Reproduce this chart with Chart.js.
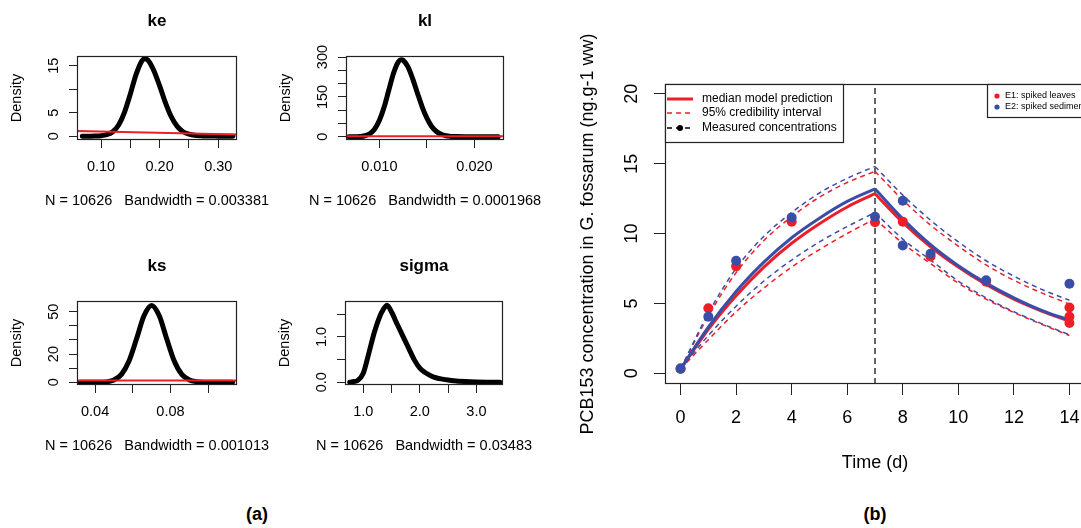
<!DOCTYPE html>
<html>
<head>
<meta charset="utf-8">
<script src="https://cdn.jsdelivr.net/npm/chart.js@4.4.0/dist/chart.umd.min.js"></script>
<style>
  body { margin: 0; width: 1081px; height: 528px; overflow: hidden; background: #fff; position: relative;
         font-family: "Liberation Sans", Arial, Helvetica, sans-serif; }
  canvas { position: absolute; }
  #bwrap { position: absolute; left: 560px; top: 0; width: 525px; height: 490px; }
  .lab { position: absolute; font-weight: bold; font-size: 18px; transform: translate(-50%, -50%); color: #000; }
</style>
</head>
<body>
<canvas id="ke"></canvas>
<canvas id="kl"></canvas>
<canvas id="ks"></canvas>
<canvas id="sigma"></canvas>
<div id="bwrap"><canvas id="conc"></canvas></div>
<div class="lab" style="left:257px; top:514px">(a)</div>
<div class="lab" style="left:875px; top:514px">(b)</div>
<script>
// ---- panel (a): posterior densities ----
var keX = [0.068, 0.08, 0.09, 0.10, 0.11, 0.12, 0.13, 0.14, 0.15, 0.16, 0.17, 0.175, 0.18, 0.19, 0.20, 0.21, 0.22, 0.23, 0.24, 0.25, 0.26, 0.27, 0.28, 0.30, 0.325];
var keY = [0, 0.02, 0.05, 0.12, 0.35, 0.95, 2.4, 5.1, 9.0, 13.2, 16.1, 16.5, 16.2, 14.0, 10.7, 7.1, 4.1, 2.1, 0.95, 0.45, 0.2, 0.1, 0.05, 0.02, 0];
var keRedX = [0.059, 0.332];
var keRedY = [1.1, 0.38];
var keXTicks = [0.10, 0.15, 0.20, 0.25, 0.30];
var keXLabels = ['0.10', '', '0.20', '', '0.30'];
var keYTicks = [0, 5, 10, 15];
var keYLabels = ['0', '5', '', '15'];

var klX = [0.0068, 0.0075, 0.008, 0.0085, 0.009, 0.0095, 0.010, 0.0105, 0.011, 0.0115, 0.012, 0.0123, 0.0125, 0.013, 0.0135, 0.014, 0.0145, 0.015, 0.0155, 0.016, 0.0165, 0.017, 0.0175, 0.018, 0.019, 0.020, 0.0215, 0.0225];
var klY = [0, 0.3, 1.2, 4, 11.6, 28.5, 61, 111, 176, 240, 282, 290, 288, 264, 219, 165, 113, 70, 39, 20, 9.3, 3.9, 1.6, 0.8, 0.2, 0.1, 0.03, 0];
var klRedX = [0.0065, 0.0231];
var klRedY = [2, 2];
var klXTicks = [0.010, 0.015, 0.020];
var klXLabels = ['0.010', '', '0.020'];
var klYTicks = [0, 50, 100, 150, 200, 250, 300];
var klYLabels = ['0', '', '', '150', '', '', '300'];

var ksX = [0.032, 0.038, 0.042, 0.046, 0.050, 0.054, 0.058, 0.062, 0.066, 0.070, 0.074, 0.078, 0.082, 0.086, 0.090, 0.094, 0.098, 0.102, 0.106, 0.113];
var ksY = [0, 0.01, 0.05, 0.33, 1.56, 5.6, 15.1, 30.8, 47.3, 54.5, 47.3, 30.8, 15.1, 5.6, 1.7, 0.45, 0.1, 0.03, 0.01, 0];
var ksRedX = [0.0304, 0.1153];
var ksRedY = [1.2, 1.2];
var ksXTicks = [0.04, 0.06, 0.08, 0.10];
var ksXLabels = ['0.04', '', '0.08', ''];
var ksYTicks = [0, 10, 20, 30, 40, 50];
var ksYLabels = ['0', '', '20', '', '', '50'];

var sigX = [0.76, 0.8, 0.9, 1.0, 1.1, 1.2, 1.3, 1.35, 1.42, 1.5, 1.6, 1.7, 1.8, 1.9, 2.0, 2.1, 2.2, 2.3, 2.4, 2.5, 2.6, 2.8, 3.0, 3.2, 3.42];
var sigY = [0, 0.01, 0.04, 0.2, 0.65, 1.12, 1.48, 1.6, 1.70, 1.55, 1.28, 1.02, 0.76, 0.5, 0.31, 0.21, 0.14, 0.095, 0.07, 0.05, 0.035, 0.018, 0.008, 0.003, 0];
var sigXTicks = [1.0, 1.5, 2.0, 2.5, 3.0];
var sigXLabels = ['1.0', '', '2.0', '', '3.0'];
var sigYTicks = [0, 0.5, 1.0, 1.5];
var sigYLabels = ['0.0', '', '1.0', ''];

// ---- panel (b): PCB153 kinetics ----
var days = [0, 1, 2, 3, 4, 5, 6, 7, 8, 9, 10, 11, 12, 13, 14];
var switchDay = 7;
var e1Median = [0.3, 3.15, 5.55, 7.6, 9.3, 10.7, 11.9, 12.85, 10.8, 9.05, 7.6, 6.35, 5.3, 4.45, 3.72];
var e2Median = [0.3, 3.3, 5.85, 7.95, 9.7, 11.1, 12.3, 13.2, 11.05, 9.2, 7.7, 6.45, 5.4, 4.5, 3.8];
var e1Upper = [0.3, 4.1, 7.2, 9.5, 11.2, 12.6, 13.65, 14.45, 12.4, 10.6, 9.1, 7.75, 6.65, 5.75, 4.95];
var e2Upper = [0.3, 4.3, 7.5, 9.8, 11.5, 12.9, 13.95, 14.8, 12.75, 10.95, 9.4, 8.05, 6.95, 6.0, 5.22];
var e1Lower = [0.3, 2.4, 4.4, 6.1, 7.6, 8.85, 10.0, 11.05, 9.3, 7.85, 6.45, 5.3, 4.35, 3.5, 2.7];
var e2Lower = [0.3, 2.7, 4.8, 6.6, 8.1, 9.4, 10.5, 11.5, 9.6, 8.1, 6.6, 5.4, 4.4, 3.55, 2.75];
var e1Times = [0, 1, 2, 4, 7, 8, 9, 11, 14, 14, 14];
var e1Conc = [0.3, 4.65, 7.65, 10.85, 10.8, 10.85, 8.35, 6.55, 4.7, 4.05, 3.6];
var e2Times = [0, 1, 2, 4, 7, 8, 8, 9, 11, 14];
var e2Conc = [0.35, 4.05, 8.05, 11.15, 11.2, 12.35, 9.15, 8.55, 6.65, 6.4];
var timeTicks = [0, 2, 4, 6, 8, 10, 12, 14];
var concTicks = [0, 5, 10, 15, 20];
var legendLabels = ['median model prediction', '95% credibility interval', 'Measured concentrations'];
var expLabels = ['E1: spiked leaves', 'E2: spiked sediment'];

var red = '#ec1f28';
var blue = '#3a4ea8';
var fam = '"Liberation Sans", Arial, Helvetica, sans-serif';

Chart.defaults.font.family = fam;
Chart.defaults.color = '#000';
Chart.defaults.animation = false;

function pts(xs, ys) {
    return xs.map(function(x, i) { return {x: x, y: ys[i]}; });
}

// box, rotated y labels, titles (R look)
var rText = {
    id: 'rText',
    afterDraw: function(chart, args, o) {
        if (!o || !o.yTicks) return;
        var ctx = chart.ctx, a = chart.chartArea, ys = chart.scales.y;
        ctx.save();
        ctx.strokeStyle = '#222';
        ctx.lineWidth = 1.2;
        ctx.strokeRect(a.left + 0.5, a.top + 0.5, a.right - a.left - 1, a.bottom - a.top - 1);
        ctx.fillStyle = '#000';
        ctx.textAlign = 'center';
        ctx.textBaseline = 'middle';
        ctx.font = o.size + 'px ' + fam;
        o.yTicks.forEach(function(v, i) {
            if (!o.yLabels[i]) return;
            ctx.save();
            ctx.translate(a.left - o.yOff, ys.getPixelForValue(v));
            ctx.rotate(-Math.PI / 2);
            ctx.fillText(o.yLabels[i], 0, 0);
            ctx.restore();
        });
        var cx = (a.left + a.right) / 2, cy = (a.top + a.bottom) / 2;
        ctx.fillText(o.xTitle, cx, a.bottom + o.xTitleDy);
        ctx.save();
        ctx.translate(a.left - o.yTitleDx, cy);
        ctx.rotate(-Math.PI / 2);
        ctx.fillText(o.yTitle, 0, 0);
        ctx.restore();
        if (o.title) {
            ctx.font = 'bold 17px ' + fam;
            ctx.fillText(o.title, cx, a.top - 35);
        }
        ctx.restore();
    }
};
Chart.register(rText);

function tickAxis(min, max, ticks, size, extra) {
    var ax = {
        type: 'linear', min: min, max: max,
        afterBuildTicks: function(s) { s.ticks = ticks.map(function(v) { return {value: v}; }); },
        afterFit: function(s) {
            if (s.isHorizontal()) s.height = size; else s.width = size;
            s.paddingLeft = 0; s.paddingRight = 0; s.paddingTop = 0; s.paddingBottom = 0;
        },
        grid: {drawOnChartArea: false, tickLength: 8, color: '#222'},
        border: {display: false}
    };
    return Object.assign(ax, extra);
}

function densityChart(p) {
    var cv = document.getElementById(p.id);
    cv.width = 77 + (p.box[2] - p.box[0]) + 60;
    cv.height = 56 + (p.box[3] - p.box[1]) + 75;
    cv.style.left = (p.box[0] - 77) + 'px';
    cv.style.top = (p.box[1] - 56) + 'px';
    var sets = [{
        data: pts(p.x, p.y), borderColor: '#000', borderWidth: 5, order: 1,
        cubicInterpolationMode: 'monotone', borderJoinStyle: 'round', borderCapStyle: 'round'
    }];
    if (p.redX) sets.push({data: pts(p.redX, p.redY), borderColor: red, borderWidth: 2, order: 0});
    return new Chart(cv, {
        type: 'line',
        data: {datasets: sets},
        options: {
            responsive: false, events: [],
            elements: {point: {radius: 0}},
            layout: {autoPadding: false, padding: {top: 56, right: 60}},
            plugins: {
                legend: {display: false}, tooltip: {enabled: false},
                rText: {yTicks: p.yTicks, yLabels: p.yLabels, yOff: 23, size: 14.5, title: p.id,
                        xTitle: p.note, xTitleDy: 61, yTitle: 'Density', yTitleDx: 60}
            },
            scales: {
                x: tickAxis(p.xr[0], p.xr[1], p.xTicks, 75, {
                    ticks: {autoSkip: false, maxRotation: 0, padding: 10, font: {size: 14.5},
                            callback: function(v, i) { return p.xLabels[i]; }}
                }),
                y: tickAxis(p.yr[0], p.yr[1], p.yTicks, 77, {
                    ticks: {display: false}
                })
            }
        }
    });
}

densityChart({id: 'ke', box: [77, 56, 237, 140], x: keX, y: keY, redX: keRedX, redY: keRedY,
    xr: [0.059, 0.332], yr: [-0.8, 17.07], xTicks: keXTicks, xLabels: keXLabels, yTicks: keYTicks, yLabels: keYLabels,
    note: 'N = 10626   Bandwidth = 0.003381'});
densityChart({id: 'kl', box: [346, 56, 504, 140], x: klX, y: klY, redX: klRedX, redY: klRedY,
    xr: [0.0065, 0.0231], yr: [-12, 304], xTicks: klXTicks, xLabels: klXLabels, yTicks: klYTicks, yLabels: klYLabels,
    note: 'N = 10626   Bandwidth = 0.0001968'});
densityChart({id: 'ks', box: [77, 301, 237, 385], x: ksX, y: ksY, redX: ksRedX, redY: ksRedY,
    xr: [0.0304, 0.1153], yr: [-1.9, 57.6], xTicks: ksXTicks, xLabels: ksXLabels, yTicks: ksYTicks, yLabels: ksYLabels,
    note: 'N = 10626   Bandwidth = 0.001013'});
densityChart({id: 'sigma', box: [345, 301, 503, 385], x: sigX, y: sigY,
    xr: [0.677, 3.47], yr: [-0.06, 1.794], xTicks: sigXTicks, xLabels: sigXLabels, yTicks: sigYTicks, yLabels: sigYLabels,
    note: 'N = 10626   Bandwidth = 0.03483'});

// ---- panel (b) ----
function curve(arr, from, to, color, width, dash, order) {
    var d = [];
    for (var i = 0; i < days.length; i++) {
        if (days[i] >= from && days[i] <= to) d.push({x: days[i], y: arr[i]});
    }
    return {data: d, borderColor: color, borderWidth: width, borderDash: dash, order: order,
            pointRadius: 0, cubicInterpolationMode: 'monotone'};
}

var yMin = -0.77, yMax = 20.7;
var bSets = [
    {data: pts(e2Times, e2Conc), showLine: false, pointRadius: 5, pointBackgroundColor: blue, pointBorderWidth: 0, order: 0},
    {data: pts(e1Times, e1Conc), showLine: false, pointRadius: 5, pointBackgroundColor: red, pointBorderWidth: 0, order: 1},
    {data: [{x: switchDay, y: yMin}, {x: switchDay, y: yMax}], borderColor: '#333', borderWidth: 1.5,
     borderDash: [6, 4], pointRadius: 0, order: 7}
];
[[e2Median, blue, 3, [], 2], [e1Median, red, 3, [], 3],
 [e2Upper, blue, 1.5, [5, 4], 4], [e2Lower, blue, 1.5, [5, 4], 4],
 [e1Upper, red, 1.5, [5, 4], 5], [e1Lower, red, 1.5, [5, 4], 5]].forEach(function(c) {
    bSets.push(curve(c[0], 0, switchDay, c[1], c[2], c[3], c[4]));
    bSets.push(curve(c[0], switchDay, 14, c[1], c[2], c[3], c[4]));
});

var bLegend = {
    id: 'bLegend',
    afterDraw: function(chart) {
        var ctx = chart.ctx, a = chart.chartArea;
        ctx.save();
        ctx.fillStyle = '#fff';
        ctx.strokeStyle = '#222';
        ctx.lineWidth = 1.2;
        ctx.fillRect(a.left, a.top, 178, 58);
        ctx.strokeRect(a.left + 0.5, a.top + 0.5, 178, 58);
        var rows = [15, 29, 44];
        var styles = [[red, 3, []], [red, 1.5, [5, 4]], ['#000', 1.5, [5, 4]]];
        ctx.font = '12px ' + fam;
        ctx.textBaseline = 'middle';
        rows.forEach(function(r, i) {
            ctx.strokeStyle = styles[i][0];
            ctx.lineWidth = styles[i][1];
            ctx.setLineDash(styles[i][2]);
            ctx.beginPath();
            ctx.moveTo(a.left + 2, a.top + r);
            ctx.lineTo(a.left + 28, a.top + r);
            ctx.stroke();
            ctx.fillStyle = '#000';
            ctx.fillText(legendLabels[i], a.left + 37, a.top + r);
        });
        ctx.setLineDash([]);
        ctx.beginPath();
        ctx.arc(a.left + 15, a.top + 44, 3, 0, Math.PI * 2);
        ctx.fill();

        var x0 = a.left + 322;
        ctx.fillStyle = '#fff';
        ctx.fillRect(x0, a.top, a.right + 10 - x0, 33);
        ctx.strokeStyle = '#222';
        ctx.lineWidth = 1.2;
        ctx.strokeRect(x0 + 0.5, a.top + 0.5, a.right + 10 - x0, 33);
        ctx.font = '9px ' + fam;
        [red, blue].forEach(function(c, i) {
            var y = a.top + 12 + i * 11;
            ctx.fillStyle = c;
            ctx.beginPath();
            ctx.arc(x0 + 10, y, 2.6, 0, Math.PI * 2);
            ctx.fill();
            ctx.fillStyle = '#000';
            ctx.fillText(expLabels[i], x0 + 18, y);
        });
        ctx.restore();
    }
};

var bCanvas = document.getElementById('conc');
bCanvas.width = 525;
bCanvas.height = 490;
bCanvas.style.left = '0px';
bCanvas.style.top = '0px';
new Chart(bCanvas, {
    type: 'line',
    data: {datasets: bSets},
    options: {
        responsive: false, events: [],
        layout: {autoPadding: false, padding: {top: 84}},
        plugins: {
            legend: {display: false}, tooltip: {enabled: false},
            rText: {yTicks: concTicks, yLabels: concTicks.map(String), yOff: 32.5, size: 18,
                    xTitle: 'Time (d)', xTitleDy: 79,
                    yTitle: 'PCB153 concentration in G. fossarum (ng.g-1 ww)', yTitleDx: 77}
        },
        scales: {
            x: tickAxis(-0.56, 14.56, timeTicks, 106, {
                ticks: {autoSkip: false, maxRotation: 0, padding: 12, font: {size: 18},
                        callback: function(v, i) { return String(timeTicks[i]); }},
                grid: {drawOnChartArea: false, tickLength: 11, color: '#222'}
            }),
            y: tickAxis(yMin, yMax, concTicks, 105, {
                ticks: {display: false},
                grid: {drawOnChartArea: false, tickLength: 11, color: '#222'}
            })
        }
    },
    plugins: [bLegend]
});
</script>
</body>
</html>
